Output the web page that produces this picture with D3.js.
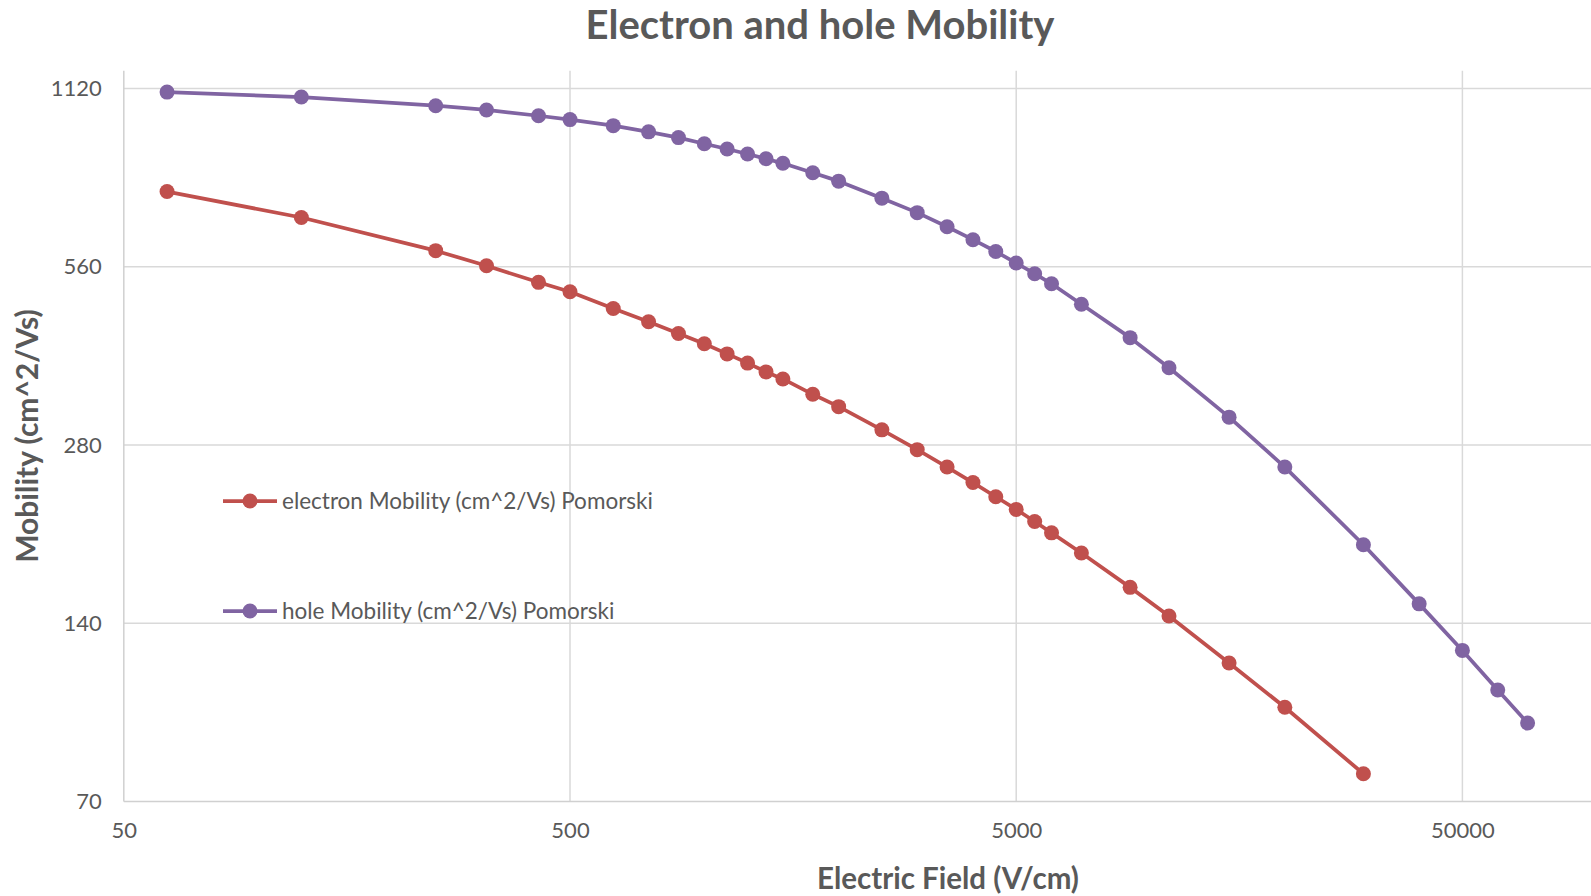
<!DOCTYPE html>
<html>
<head>
<meta charset="utf-8">
<script src="https://cdn.jsdelivr.net/npm/d3@7"></script>
<style>
  body { margin: 0; background: #fff; }
  svg { display: block; font-family: Lato, "Open Sans", sans-serif; }
</style>
</head>
<body>
<svg id="chart" width="1591" height="896"></svg>
<script>
const fieldValues = [62.5, 125, 250, 325, 425, 500, 625, 750, 875, 1000, 1125, 1250, 1375, 1500, 1750, 2000,
  2500, 3000, 3500, 4000, 4500, 5000, 5500, 6000, 7000, 9000, 11000, 15000, 20000, 30000, 40000, 50000, 60000, 70000];

const electronMobility = [750, 678, 596, 562, 527, 508, 476, 452, 432, 415, 399, 385, 372, 362, 341, 325,
  297, 275, 257, 242, 229, 218, 208, 199, 184, 161, 144, 120, 101, 78];

const holeMobility = [1104, 1083, 1047, 1030, 1007, 992, 969, 946, 925, 903, 885, 868, 852, 837, 807, 781,
  731, 691, 654, 622, 594, 568, 545, 524, 484, 425, 378, 312, 257, 190, 151, 126, 108, 95];

const xTicks = [50, 500, 5000, 50000];
const yTicks = [70, 140, 280, 560, 1120];

const seriesNames = ["electron Mobility (cm^2/Vs) Pomorski", "hole Mobility (cm^2/Vs) Pomorski"];

const series = [
  { name: seriesNames[0], color: "#C0504D", values: electronMobility.map((v, i) => ({ x: fieldValues[i], y: v })) },
  { name: seriesNames[1], color: "#8064A2", values: holeMobility.map((v, i) => ({ x: fieldValues[i], y: v })) }
];

const width = 1591;
const height = 896;
const left = 123.8, bottom = 801.6;
const decade = 446.2, doubling = 178.3;

const x = d3.scaleLog()
  .domain([50, 100000])
  .range([left, left + decade * Math.log10(2000)]);

const y = d3.scaleLog()
  .base(2)
  .domain([70, 1200])
  .range([bottom, bottom - doubling * Math.log2(1200 / 70)]);

const svg = d3.select("#chart");
const plotTop = y(1200);

// gridlines
svg.append("g")
  .selectAll("line")
  .data(yTicks.slice(1))
  .join("line")
  .attr("x1", left)
  .attr("x2", width)
  .attr("y1", d => y(d))
  .attr("y2", d => y(d))
  .attr("stroke", "#d9d9d9")
  .attr("stroke-width", 1.5);

svg.append("g")
  .selectAll("line")
  .data(xTicks.slice(1))
  .join("line")
  .attr("x1", d => x(d))
  .attr("x2", d => x(d))
  .attr("y1", plotTop)
  .attr("y2", bottom)
  .attr("stroke", "#d9d9d9")
  .attr("stroke-width", 1.5);

// axes
const xAxis = svg.append("g")
  .attr("transform", `translate(0,${bottom})`)
  .call(d3.axisBottom(x).tickValues(xTicks).tickFormat(d3.format("d")).tickSize(0).tickPadding(21));

const yAxis = svg.append("g")
  .attr("transform", `translate(${left},0)`)
  .call(d3.axisLeft(y).tickValues(yTicks).tickFormat(d3.format("d")).tickSize(0).tickPadding(22));

xAxis.select(".domain").attr("stroke", "#d0d0d0").attr("stroke-width", 1.5)
  .attr("d", `M${left},0H${width}`);
yAxis.select(".domain").attr("stroke", "#d0d0d0").attr("stroke-width", 1.5)
  .attr("d", `M0,${plotTop}V${bottom}`);

svg.selectAll(".tick text")
  .attr("fill", "#595959")
  .attr("font-size", 22)
  .attr("font-family", "Lato, sans-serif");

// series
const line = d3.line()
  .x(d => x(d.x))
  .y(d => y(d.y));

const g = svg.append("g");

series.forEach(s => {
  g.append("path")
    .datum(s.values)
    .attr("fill", "none")
    .attr("stroke", s.color)
    .attr("stroke-width", 3.75)
    .attr("stroke-linejoin", "round")
    .attr("d", line);

  g.append("g")
    .selectAll("circle")
    .data(s.values)
    .join("circle")
    .attr("cx", d => x(d.x))
    .attr("cy", d => y(d.y))
    .attr("r", 7.5)
    .attr("fill", s.color);
});

// legend
const legend = svg.append("g")
  .selectAll("g")
  .data(series)
  .join("g")
  .attr("transform", (d, i) => `translate(223,${501 + i * 110})`);

legend.append("line")
  .attr("x1", 0)
  .attr("x2", 54)
  .attr("stroke", d => d.color)
  .attr("stroke-width", 3.75);

legend.append("circle")
  .attr("cx", 27)
  .attr("r", 7.5)
  .attr("fill", d => d.color);

legend.append("text")
  .attr("x", 59)
  .attr("dy", "0.35em")
  .attr("fill", "#595959")
  .attr("font-size", 22.5)
  .text(d => d.name);

// titles
svg.append("text")
  .attr("x", 820)
  .attr("y", 39)
  .attr("text-anchor", "middle")
  .attr("fill", "#595959")
  .attr("font-weight", "bold")
  .attr("font-size", 40)
  .text("Electron and hole Mobility");

svg.append("text")
  .attr("x", 948)
  .attr("y", 889)
  .attr("text-anchor", "middle")
  .attr("fill", "#595959")
  .attr("font-weight", "bold")
  .attr("font-size", 29.5)
  .text("Electric Field (V/cm)");

svg.append("text")
  .attr("transform", "translate(38,436) rotate(-90)")
  .attr("text-anchor", "middle")
  .attr("fill", "#595959")
  .attr("font-weight", "bold")
  .attr("font-size", 30)
  .text("Mobility (cm^2/Vs)");
</script>
</body>
</html>
